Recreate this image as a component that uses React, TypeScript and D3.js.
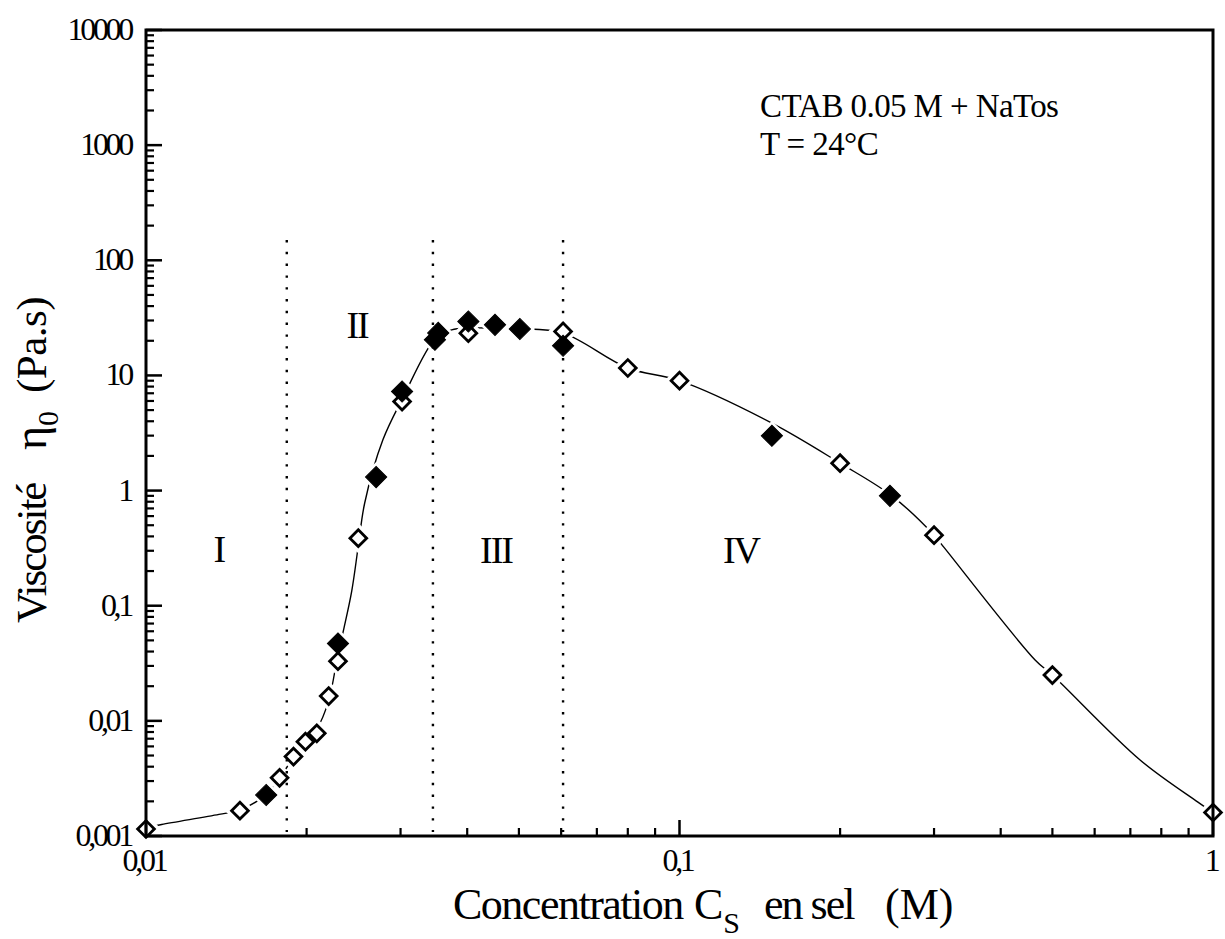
import React from "react";
import * as d3 from "d3";

// ---- data ----
const openX = [0.01, 0.015, 0.0178, 0.0189, 0.0199, 0.0209, 0.022, 0.0229, 0.025, 0.0302, 0.0402, 0.0605, 0.08, 0.1, 0.2, 0.3, 0.5, 1];
const openY = [0.00115, 0.00166, 0.0032, 0.0049, 0.0066, 0.0078, 0.0164, 0.033, 0.386, 5.93, 23.3, 24.1, 11.6, 9.0, 1.73, 0.41, 0.025, 0.0016];

const filledX = [0.0168, 0.0229, 0.027, 0.0302, 0.0348, 0.0353, 0.0402, 0.0451, 0.0502, 0.0605, 0.149, 0.248];
const filledY = [0.00227, 0.047, 1.31, 7.25, 20.4, 23.4, 29.4, 27.5, 25.3, 18.1, 2.99, 0.9];

// fitted guide curve drawn through the data
const fitX = [0.01, 0.0107, 0.0137, 0.015, 0.0168, 0.0178, 0.0189, 0.0199, 0.0209, 0.022, 0.0229, 0.0235, 0.0243, 0.025, 0.0257, 0.0278, 0.0302, 0.035, 0.0374, 0.0402, 0.045, 0.05, 0.0605, 0.08, 0.1, 0.149, 0.2, 0.25, 0.3, 0.314, 0.464, 0.5, 0.73, 0.937, 1];
const fitY = [0.00118, 0.00126, 0.00154, 0.00168, 0.0023, 0.0032, 0.0048, 0.0065, 0.0085, 0.015, 0.038, 0.064, 0.134, 0.33, 0.78, 2.76, 6.2, 21.5, 24.9, 25.8, 25.8, 25.5, 23.3, 11.6, 9.0, 3.85, 1.73, 0.9, 0.41, 0.316, 0.0338, 0.025, 0.00457, 0.00197, 0.0016];

const regionBounds = [0.01836, 0.0345, 0.0605];
const regionTopValue = 150;
const regionLabels = ["I", "II", "III", "IV"];
const regionLabelX = [0.0137, 0.02487, 0.0453, 0.1304];
const regionLabelY = [0.24, 21.2, 0.236, 0.236];

const yTickValues = [0.001, 0.01, 0.1, 1, 10, 100, 1000, 10000];
const yTickLabels = ["0,001", "0,01", "0,1", "1", "10", "100", "1000", "10000"];
const xTickValues = [0.01, 0.1, 1];
const xTickLabels = ["0,01", "0,1", "1"];

const annotationLines = ["CTAB 0.05 M + NaTos", "T = 24°C"];

const W = 1225;
const H = 939;
const FONT = "'Liberation Serif', 'Times New Roman', serif";

export default function App() {
  const x = d3.scaleLog().domain([0.01, 1]).range([146, 1213]);
  const y = d3.scaleLog().domain([0.001, 10000]).range([836, 30]);
  const [x0, x1] = x.range();
  const [y0, y1] = y.range();

  const yMinor: number[] = [];
  for (let e = -3; e < 4; e++) for (let m = 2; m <= 9; m++) yMinor.push(m * Math.pow(10, e));
  const xMinor: number[] = [];
  for (let e = -2; e < 0; e++) for (let m = 2; m <= 9; m++) xMinor.push(m * Math.pow(10, e));

  const fitPts: [number, number][] = fitX.map((v, i) => [v, fitY[i]]);
  const line = d3
    .line<[number, number]>()
    .x((d) => x(d[0]))
    .y((d) => y(d[1]))
    .curve(d3.curveCatmullRom.alpha(0.5));

  const sq = (size: number) => d3.symbol(d3.symbolSquare, size)() as string;
  const openPath = sq(140);
  const filledPath = sq(225);
  const haloPath = sq(460);

  const allPts = [
    ...openX.map((v, i) => [v, openY[i]]),
    ...filledX.map((v, i) => [v, filledY[i]]),
  ];

  return (
    <svg
      width={W}
      height={H}
      style={{ position: "absolute", left: 0, top: 0, background: "#fff" }}
      fontFamily={FONT}
    >
      <rect x={0} y={0} width={W} height={H} fill="#fff" />

      {/* fitted curve */}
      <path d={line(fitPts) as string} fill="none" stroke="#000" strokeWidth={1.4} />

      {/* gaps around markers */}
      {allPts.map((p, i) => (
        <path
          key={"h" + i}
          d={haloPath}
          transform={`translate(${x(p[0])},${y(p[1])}) rotate(45)`}
          fill="#fff"
        />
      ))}

      {/* region boundaries */}
      {regionBounds.map((b, i) => (
        <line
          key={"rb" + i}
          x1={x(b)}
          x2={x(b)}
          y1={y(regionTopValue)}
          y2={y0 - 4}
          stroke="#000"
          strokeWidth={2.4}
          strokeDasharray="2.4 9.4"
        />
      ))}

      {/* region labels */}
      {regionLabels.map((t, i) => (
        <text
          key={"rl" + i}
          x={x(regionLabelX[i])}
          y={y(regionLabelY[i])}
          textAnchor="middle"
          fontSize={38}
          letterSpacing={-2}
        >
          {t}
        </text>
      ))}

      {/* markers */}
      {openX.map((v, i) => (
        <path
          key={"o" + i}
          d={openPath}
          transform={`translate(${x(v)},${y(openY[i])}) rotate(45)`}
          fill="#fff"
          stroke="#000"
          strokeWidth={2.8}
        />
      ))}
      {filledX.map((v, i) => (
        <path
          key={"f" + i}
          d={filledPath}
          transform={`translate(${x(v)},${y(filledY[i])}) rotate(45)`}
          fill="#000"
          stroke="#000"
          strokeWidth={1}
        />
      ))}

      {/* frame */}
      <rect x={x0} y={y1} width={x1 - x0} height={y0 - y1} fill="none" stroke="#000" strokeWidth={3} />

      {/* y ticks (inward) */}
      {yTickValues.map((v, i) => (
        <line key={"ym" + i} x1={x0} x2={x0 + 16} y1={y(v)} y2={y(v)} stroke="#000" strokeWidth={2.5} />
      ))}
      {yMinor.map((v, i) => (
        <line key={"yn" + i} x1={x0} x2={x0 + 8} y1={y(v)} y2={y(v)} stroke="#000" strokeWidth={2.2} />
      ))}
      {yTickValues.map((v, i) => (
        <text
          key={"yl" + i}
          x={131}
          y={y(v) + 10}
          textAnchor="end"
          fontSize={32}
          letterSpacing={-3.3}
        >
          {yTickLabels[i]}
        </text>
      ))}

      {/* x ticks (inward) */}
      {xTickValues.map((v, i) => (
        <line key={"xm" + i} x1={x(v)} x2={x(v)} y1={y0} y2={y0 - 16} stroke="#000" strokeWidth={2.5} />
      ))}
      {xMinor.map((v, i) => (
        <line key={"xn" + i} x1={x(v)} x2={x(v)} y1={y0} y2={y0 - 8} stroke="#000" strokeWidth={2.2} />
      ))}
      {xTickValues.map((v, i) => (
        <text
          key={"xl" + i}
          x={x(v) - 2}
          y={y0 + 35}
          textAnchor="middle"
          fontSize={32}
          letterSpacing={-3.3}
        >
          {xTickLabels[i]}
        </text>
      ))}

      {/* x axis title */}
      <text y={919} fontSize={44}>
        <tspan x={453} letterSpacing={-1.5}>Concentration</tspan>
        <tspan x={694}>C</tspan>
        <tspan dy={14} fontSize={30}>S</tspan>
        <tspan x={764} dy={-14} letterSpacing={-2}>en sel</tspan>
        <tspan x={885}>(M)</tspan>
      </text>

      {/* y axis title */}
      <g transform="translate(46,623) rotate(-90)">
        <text x={0} y={0} fontSize={43} letterSpacing={-2}>
          Viscosité
        </text>
        <text x={173} y={0} fontSize={46}>
          η<tspan dy={12} fontSize={30}>0</tspan>
        </text>
        <text x={230} y={0} fontSize={43} letterSpacing={-0.5}>
          (Pa.s)
        </text>
      </g>

      {/* annotation */}
      {annotationLines.map((t, i) => (
        <text key={"an" + i} x={760} y={117 + i * 38} fontSize={33} letterSpacing={-0.6}>
          {t}
        </text>
      ))}
    </svg>
  );
}
